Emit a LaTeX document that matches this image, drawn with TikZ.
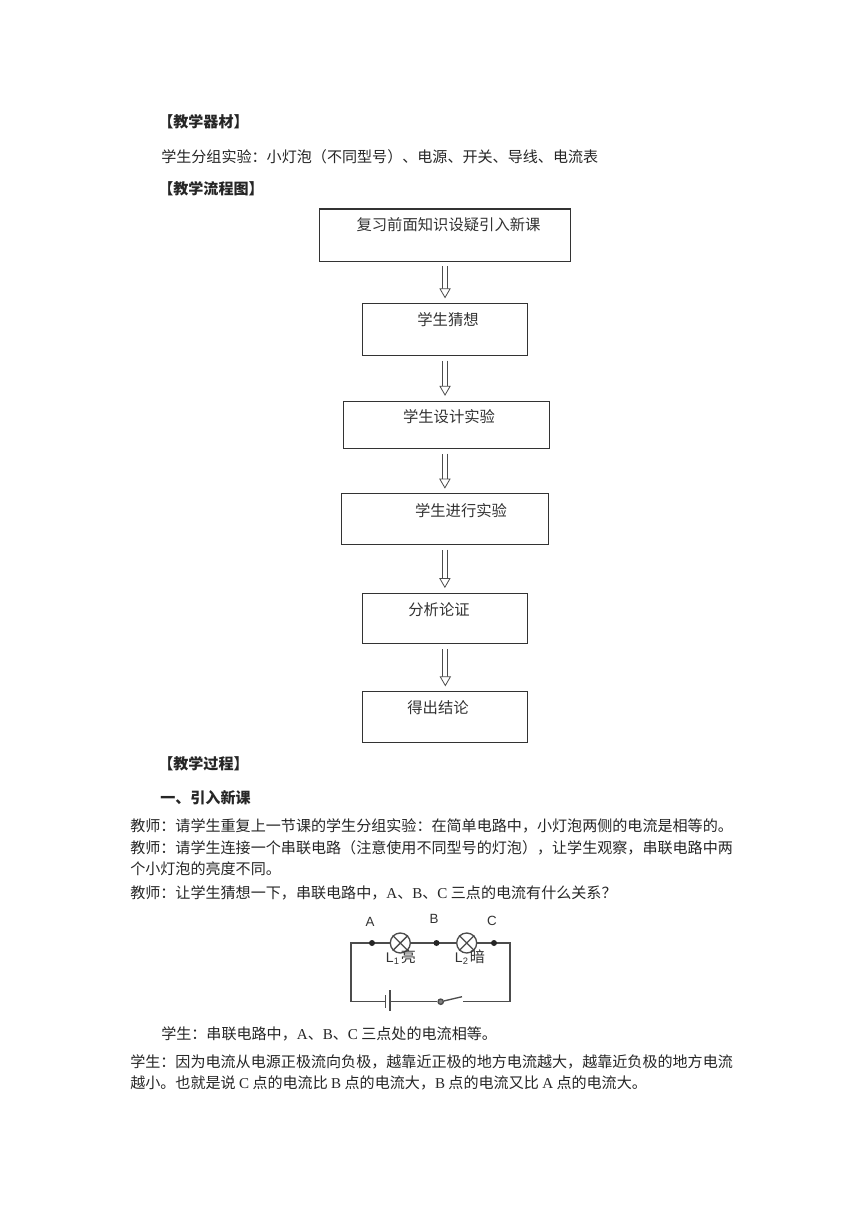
\documentclass[tikz,border=0pt]{standalone}
\usepackage{fontspec}
\setmainfont{Liberation Sans}
\newfontfamily\cjk{Noto Sans CJK SC}
\newfontfamily\latn{Liberation Serif}
\newcommand{\lt}[1]{{\latn #1}}
\usetikzlibrary{arrows.meta}
\tikzset{
  x=0.75pt,y=-0.75pt,
  body/.style={anchor=west,inner sep=0pt,font=\fontsize{11.3}{12}\selectfont\cjk,text=black!85},
  head/.style={anchor=west,inner sep=0pt,font=\fontsize{11.3}{12}\selectfont\cjk\bfseries,text=black!85},
  flowbox/.style={draw=black!80,line width=0.8pt,rectangle,inner sep=0pt},
  flowtext/.style={inner sep=0pt,font=\fontsize{11.5}{12}\selectfont\cjk,text=black!80},
  harrow/.style={draw=black!70,line width=0.6pt,double=white,double distance=3.2pt,shorten <=3.5pt,shorten >=3.5pt,
    -{Triangle[open,fill=white,length=7.5pt,width=8.5pt,line width=0.6pt]}},
  wire/.style={draw=black!70,line width=1pt},
  cdot/.style={circle,fill=black!85,inner sep=0pt,minimum size=4.5pt},
  lamp/.style={circle,draw=black!70,line width=1pt,fill=white,minimum size=15pt,inner sep=0pt},
  clabel/.style={inner sep=0pt,font=\fontsize{10}{10}\selectfont,text=black!80},
  lamplabel/.style={inner sep=0pt,font=\fontsize{10.5}{11}\selectfont,text=black!80},
}
\newcommand{\boxat}[5]{\node[flowbox,minimum width=#4*0.75pt-#2*0.75pt,minimum height=#5*0.75pt-#3*0.75pt,anchor=north west] (#1) at (#2,#3) {};}
\begin{document}
\begin{tikzpicture}
\useasboundingbox[fill=white] (0,0) rectangle (860,1216);
\node[head] (h1) at (158,122) {【教学器材】};
\node[body] (t1) at (161,157) {学生分组实验：小灯泡（不同型号）、电源、开关、导线、电流表};
\node[head] (h2) at (158,189) {【教学流程图】};
\boxat{b1}{319}{208.5}{570}{260.5}
\boxat{b2}{362}{303}{527}{355}
\boxat{b3}{342.5}{400.5}{548.5}{448}
\boxat{b4}{341}{493.3}{547.7}{544}
\boxat{b5}{362.3}{592.7}{527.3}{643.3}
\boxat{b6}{362.3}{691}{527}{742.3}
\node[flowtext] (f1) at (448.5,225) {复习前面知识设疑引入新课};
\node[flowtext] (f2) at (448,320) {学生猜想};
\node[flowtext] (f3) at (449,417) {学生设计实验};
\node[flowtext] (f4) at (461,510.5) {学生进行实验};
\node[flowtext] (f5) at (439,610) {分析论证};
\node[flowtext] (f6) at (438,708) {得出结论};
\draw[harrow] (b1.south) -- (b1.south |- b2.north);
\draw[harrow] (b2.south) -- (b2.south |- b3.north);
\draw[harrow] (b4.north |- b3.south) -- (b4.north);
\draw[harrow] (b4.south) -- (b4.south |- b5.north);
\draw[harrow] (b5.south) -- (b5.south |- b6.north);
\node[head] (h3) at (158,764) {【教学过程】};
\node[head] (h4) at (160,798) {一、引入新课};
\node[body] (l1) at (130,826) {教师：请学生重复上一节课的学生分组实验：在简单电路中，小灯泡两侧的电流是相等的。};
\node[body] (l2) at (130,848) {教师：请学生连接一个串联电路（注意使用不同型号的灯泡），让学生观察，串联电路中两};
\node[body] (l3) at (130,869) {个小灯泡的亮度不同。};
\node[body] (l4) at (130,892.5) {教师：让学生猜想一下，串联电路中，\lt{A}、\lt{B}、\lt{C} 三点的电流有什么关系？};
% circuit
\coordinate (tl) at (351,943);
\coordinate (tr) at (510,943);
\coordinate (bl) at (351,1001.7);
\coordinate (br) at (510,1001.7);
\coordinate (p1) at (385.7,1001.7);
\coordinate (p2) at (390,1001.7);
\coordinate (s2) at (463,1001.7);
\draw[wire] (p1) -- (bl) -- (tl) -- (tr) -- (br) -- (s2);
\node[lamp] (L1) at (400.3,943) {};
\node[lamp] (L2) at (466.7,943) {};
\draw[wire] (L1.north west) -- (L1.south east) (L1.north east) -- (L1.south west);
\draw[wire] (L2.north west) -- (L2.south east) (L2.north east) -- (L2.south west);
\node[cdot] (da) at (372,943) {};
\node[cdot] (db) at (436.5,943) {};
\node[cdot] (dc) at (494,943) {};
\node[clabel] (A) at (370,921.5) {A};
\node[clabel] (B) at (434,919) {B};
\node[clabel] (C) at (492,921) {C};
\node[lamplabel] (n1) at (401,957) {L\raisebox{-0.3ex}{\fontsize{7}{7}\selectfont 1}\hspace{1.5pt}{\cjk\fontsize{11.3}{11}\selectfont 亮}};
\node[lamplabel] (n2) at (470,957) {L\raisebox{-0.3ex}{\fontsize{7}{7}\selectfont 2}\hspace{1.5pt}{\cjk\fontsize{11.3}{11}\selectfont 暗}};
\draw[wire] (385.7,995) -- (385.7,1008);
\draw[wire] (390,990) -- (390,1011);
\node[circle,draw=black!70,line width=1pt,fill=black!50,inner sep=0pt,minimum size=4pt] (sw) at (440.7,1001.7) {};
\draw[wire] (p2) -- (sw);
\draw[wire] (sw) -- (462,996.7);
\node[body] (l5) at (161,1034) {学生：串联电路中，\lt{A}、\lt{B}、\lt{C} 三点处的电流相等。};
\node[body] (l6) at (130,1062) {学生：因为电流从电源正极流向负极，越靠近正极的地方电流越大，越靠近负极的地方电流};
\node[body] (l7) at (130,1083) {越小。也就是说 \lt{C} 点的电流比 \lt{B} 点的电流大，\lt{B} 点的电流又比 \lt{A} 点的电流大。};
\end{tikzpicture}
\end{document}
